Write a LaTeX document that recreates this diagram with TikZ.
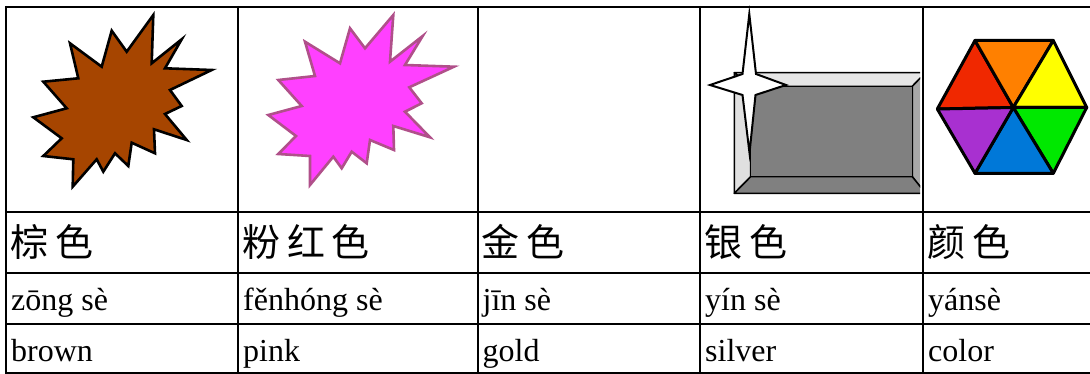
\documentclass[tikz,border=0pt]{standalone}
\usepackage{fontspec}
\setmainfont{Liberation Serif}
\newfontfamily\cjk[LetterSpace=18]{Noto Sans CJK SC}
\definecolor{brownfill}{HTML}{A64500}
\definecolor{pinkfill}{HTML}{FF40FF}
\definecolor{pinkline}{HTML}{B0508A}
\definecolor{bevtop}{HTML}{E6E6E6}
\definecolor{bevleft}{HTML}{E0E0E0}
\definecolor{bevright}{HTML}{A8A8A8}
\definecolor{bevdark}{HTML}{808080}
\definecolor{hxred}{HTML}{F02800}
\definecolor{hxorange}{HTML}{FF8000}
\definecolor{hxyellow}{HTML}{FFFF00}
\definecolor{hxgreen}{HTML}{00E800}
\definecolor{hxblue}{HTML}{0078D8}
\definecolor{hxpurple}{HTML}{A830D0}
\begin{document}
\begin{tikzpicture}[x=1pt,y=-1pt,
  gridline/.style={line width=2pt, black},
  lat/.style={anchor=base west, inner sep=0pt, font=\fontsize{32}{38}\selectfont},
  han/.style={anchor=base west, inner sep=0pt, font=\cjk\fontsize{38}{44}\selectfont},
  bevel/.style={draw=black, line width=1.5pt, line join=round},
  tri/.style={draw=black, line width=3pt, line join=round},
  burst/.style={line width=2.6pt, line join=miter}]
\useasboundingbox (0,0) rectangle (1090,374);
% ---- brown burst
\draw[burst, draw=black, fill=brownfill]
 (153.3,15) -- (151.7,63.3) -- (181.7,39.3) -- (165,68.3) -- (211.7,70) -- (170,90) -- (181.7,106) -- (165,114) -- (186.7,140) -- (154,129.3) -- (155,153.3) -- (131.7,142.7) -- (128.3,166) -- (115,153.3) -- (103.3,171.7) -- (96.7,159.3) -- (72.7,186.7) -- (73.3,159.3) -- (43.3,156) -- (61.7,138.3) -- (33.3,117.3) -- (66.7,108.3) -- (43.3,81.7) -- (78.3,78.3) -- (70,43.3) -- (101.7,66.7) -- (111.7,30.7) -- (126.7,51.7) -- cycle;
% ---- pink burst
\draw[burst, draw=pinkline, fill=pinkfill]
 (393.3,15) -- (390,61.7) -- (422.7,36) -- (405,65) -- (454,66.7) -- (409.3,87.3) -- (421.7,103.3) -- (405,111.7) -- (430,137.3) -- (393.3,126) -- (394,150) -- (370,140) -- (366.7,163.3) -- (351.7,151.7) -- (341.7,168.3) -- (333.3,156.7) -- (310,185) -- (310,156) -- (278.3,154) -- (296,136) -- (268.3,115) -- (301.7,106) -- (278.3,80) -- (315,76) -- (305,41.7) -- (340,63.3) -- (350,28.3) -- (365,48.3) -- cycle;
% ---- silver plate
\begin{scope}
\clip (700,0) rectangle (920,374);
\coordinate (oTL) at (734.3,72.7);
\coordinate (oTR) at (925.5,72.7);
\coordinate (oBR) at (925.5,193.3);
\coordinate (oBL) at (734.3,193.3);
\coordinate (iTL) at (750.7,86.3);
\coordinate (iTR) at (912.3,86.3);
\coordinate (iBR) at (912.3,176.7);
\coordinate (iBL) at (750.7,176.7);
\draw[bevel, fill=bevtop] (oTL) -- (oTR) -- (iTR) -- (iTL) -- cycle;
\draw[bevel, fill=bevleft] (oTL) -- (iTL) -- (iBL) -- (oBL) -- cycle;
\draw[bevel, fill=bevright] (oTR) -- (oBR) -- (iBR) -- (iTR) -- cycle;
\draw[bevel, fill=bevdark] (oBL) -- (iBL) -- (iBR) -- (oBR) -- cycle;
\draw[bevel, fill=bevdark] (iTL) -- (iTR) -- (iBR) -- (iBL) -- cycle;
\end{scope}
% ---- sparkle
\draw[line width=2pt, fill=white, line join=miter]
 (749.3,14) -- (756,74) -- (786,85) -- (755.5,95) -- (749.5,153) -- (742.5,95) -- (710,85) -- (742.5,74) -- cycle;
% ---- hexagon
\coordinate (hTL) at (975,40.5);
\coordinate (hTR) at (1053.3,40.5);
\coordinate (hR) at (1086.7,107.5);
\coordinate (hBR) at (1053.3,173.3);
\coordinate (hBL) at (975,173.3);
\coordinate (hL) at (937.3,109);
\coordinate (hC) at (1013.3,107.5);
\draw[tri, fill=hxred] (hTL) -- (hL) -- (hC) -- cycle;
\draw[tri, fill=hxorange] (hTL) -- (hTR) -- (hC) -- cycle;
\draw[tri, fill=hxyellow] (hTR) -- (hR) -- (hC) -- cycle;
\draw[tri, fill=hxgreen] (hR) -- (hBR) -- (hC) -- cycle;
\draw[tri, fill=hxblue] (hBR) -- (hBL) -- (hC) -- cycle;
\draw[tri, fill=hxpurple] (hBL) -- (hL) -- (hC) -- cycle;
% ---- table grid
\foreach \yy in {7,212,273,324,373} \draw[gridline] (5,\yy) -- (1090,\yy);
\foreach \xx in {6,238,477.5,700,923} \draw[gridline] (\xx,6) -- (\xx,374);
% ---- texts
\node[han] (h1) at (10,257) {棕色};
\node[han] (h2) at (242,257) {粉红色};
\node[han] (h3) at (481.5,257) {金色};
\node[han] (h4) at (704,257) {银色};
\node[han] (h5) at (927,257) {颜色};
\node[lat] (p1) at (11,310) {zōng sè};
\node[lat] (p2) at (243,310) {fěnhóng sè};
\node[lat] (p3) at (482.5,310) {jīn sè};
\node[lat] (p4) at (705,310) {yín sè};
\node[lat] (p5) at (928,310) {yánsè};
\node[lat] (e1) at (11,361) {brown};
\node[lat] (e2) at (243,361) {pink};
\node[lat] (e3) at (482.5,361) {gold};
\node[lat] (e4) at (705,361) {silver};
\node[lat] (e5) at (928,361) {color};
\end{tikzpicture}
\end{document}
